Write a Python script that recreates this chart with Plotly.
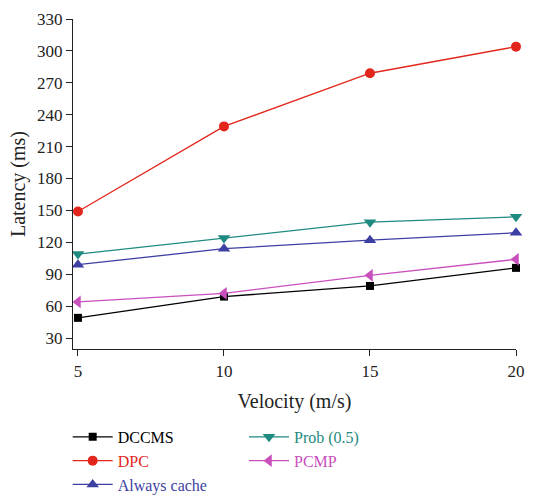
import plotly.graph_objects as go

velocity = [5, 10, 15, 20]
dccms = [49, 69, 79, 96]
dpc = [149, 229, 279, 304]
always_cache = [99, 114, 122, 129]
prob_05 = [109, 124, 139, 144]
pcmp = [64, 72, 89, 104]

y_ticks = [30, 60, 90, 120, 150, 180, 210, 240, 270, 300, 330]
x_ticks = [5, 10, 15, 20]

series = [
    ("DCCMS", dccms, "#000000", "square", 8, "legend"),
    ("DPC", dpc, "#e3261b", "circle", 10, "legend"),
    ("Always cache", always_cache, "#3e3fa3", "triangle-up", 11, "legend"),
    ("Prob (0.5)", prob_05, "#1f8a80", "triangle-down", 11, "legend2"),
    ("PCMP", pcmp, "#c94fbd", "triangle-left", 11, "legend2"),
]

fig = go.Figure()
for name, vals, color, sym, size, leg in series:
    fig.add_trace(go.Scatter(
        x=velocity, y=vals, mode="lines+markers",
        name=f"<span style='color:{color}'>{name}</span>",
        legend=leg,
        line=dict(color=color, width=1.3),
        marker=dict(symbol=sym, size=size, color=color),
        cliponaxis=False,
    ))

font_family = "Liberation Serif, DejaVu Serif, serif"
legend_common = dict(
    orientation="v", yanchor="top", xanchor="left",
    font=dict(family=font_family, size=16),
    itemwidth=40, tracegroupgap=0, bgcolor="rgba(0,0,0,0)",
)
fig.update_layout(
    width=545, height=496,
    margin=dict(l=73, r=29, t=19, b=147, autoexpand=False),
    paper_bgcolor="white", plot_bgcolor="white",
    font=dict(family=font_family, size=17, color="#222222"),
    showlegend=True,
    legend=dict(x=-0.012, y=-0.215, **legend_common),
    legend2=dict(x=0.386, y=-0.215, **legend_common),
    xaxis=dict(
        range=[4.83, 20], tickvals=x_ticks, ticks="outside", ticklen=6,
        showline=True, linecolor="#222222", linewidth=1.2, showgrid=False,
        zeroline=False, tickcolor="#222222", automargin=False,
        title=dict(text="Velocity (m/s)", standoff=14),
    ),
    yaxis=dict(
        range=[19.7, 330], tickvals=y_ticks, ticks="outside", ticklen=6,
        showline=True, linecolor="#222222", linewidth=1.2, showgrid=False,
        zeroline=False, tickcolor="#222222", automargin=False,
        title=dict(text="Latency (ms)", standoff=6),
    ),
)

fig.write_html(
    "out.html",
    config={"displayModeBar": False},
    post_script="document.body.style.margin='0';",
)
